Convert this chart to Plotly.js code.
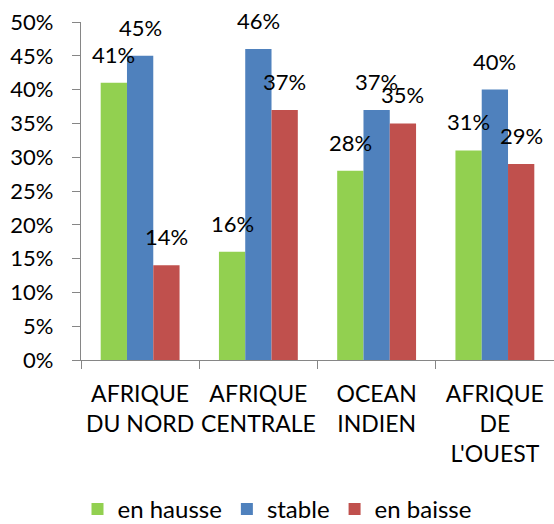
<!DOCTYPE html>
<html><head><meta charset="utf-8">
<script src="https://cdn.plot.ly/plotly-3.0.1.min.js"></script>
<style>html,body{margin:0;padding:0;background:#fff}#c{width:554px;height:524px}</style>
</head><body><div id="c"></div>
<script>
const categories = ["AFRIQUE<br>DU NORD", "AFRIQUE<br>CENTRALE", "OCEAN<br>INDIEN", "AFRIQUE<br>DE<br>L'OUEST"];
const seriesNames = ["en hausse", "stable", "en baisse"];
const enHausse = [0.41, 0.16, 0.28, 0.31];
const stable = [0.45, 0.46, 0.37, 0.40];
const enBaisse = [0.14, 0.37, 0.35, 0.29];
const colors = ["#92D050", "#4F81BD", "#C0504D"];

const FONT = "Lato, 'Open Sans', sans-serif";
const series = [enHausse, stable, enBaisse];
const traces = series.map((vals, i) => ({
  type: "bar", name: seriesNames[i], x: categories, y: vals,
  marker: {color: colors[i]}, hoverinfo: "skip"
}));

const L = 81, R = 0;
const plotW = 554 - L - R;
const catW = plotW / categories.length;
const barW = catW * (1 - 0.333) / 3;
const annotations = [];
series.forEach((vals, i) => {
  vals.forEach((v, j) => {
    annotations.push({
      x: categories[j], y: v, xref: "x", yref: "y",
      text: Math.round(v * 100) + "%", showarrow: false,
      xshift: (i - 1) * barW, yshift: 13, yanchor: "bottom",
      font: {family: FONT, size: 22, color: "#000"}
    });
  });
});

const layout = {
  width: 554, height: 524,
  margin: {l: L, r: R, t: 22, b: 164},
  paper_bgcolor: "#fff", plot_bgcolor: "#fff",
  barmode: "group", bargap: 0.333, bargroupgap: 0,
  font: {family: FONT, size: 22, color: "#000"},
  xaxis: {
    type: "category", range: [-0.5, 3.5], showgrid: false,
    showline: true, linecolor: "#868686", linewidth: 1.3,
    ticks: "outside", tickson: "boundaries", ticklen: 8, tickcolor: "#868686",
    tickangle: 0, automargin: false,
    tickfont: {family: FONT, size: 23}, ticklabelstandoff: 13, fixedrange: true
  },
  yaxis: {
    range: [0, 0.5], dtick: 0.05, tick0: 0, tickformat: ".0%",
    showgrid: false, zeroline: false, automargin: false,
    showline: true, linecolor: "#868686", linewidth: 1.3,
    ticks: "outside", ticklen: 8, tickcolor: "#868686",
    tickfont: {family: FONT, size: 22}, ticklabelstandoff: 14, fixedrange: true
  },
  showlegend: true,
  legend: {
    orientation: "h", x: 0.5, xanchor: "center", xref: "container",
    y: 0.028, yanchor: "middle", yref: "container",
    font: {family: FONT, size: 24}, itemwidth: 30, traceorder: "normal"
  },
  annotations: annotations
};
Plotly.newPlot("c", traces, layout, {displayModeBar: false, staticPlot: true});
</script></body></html>
